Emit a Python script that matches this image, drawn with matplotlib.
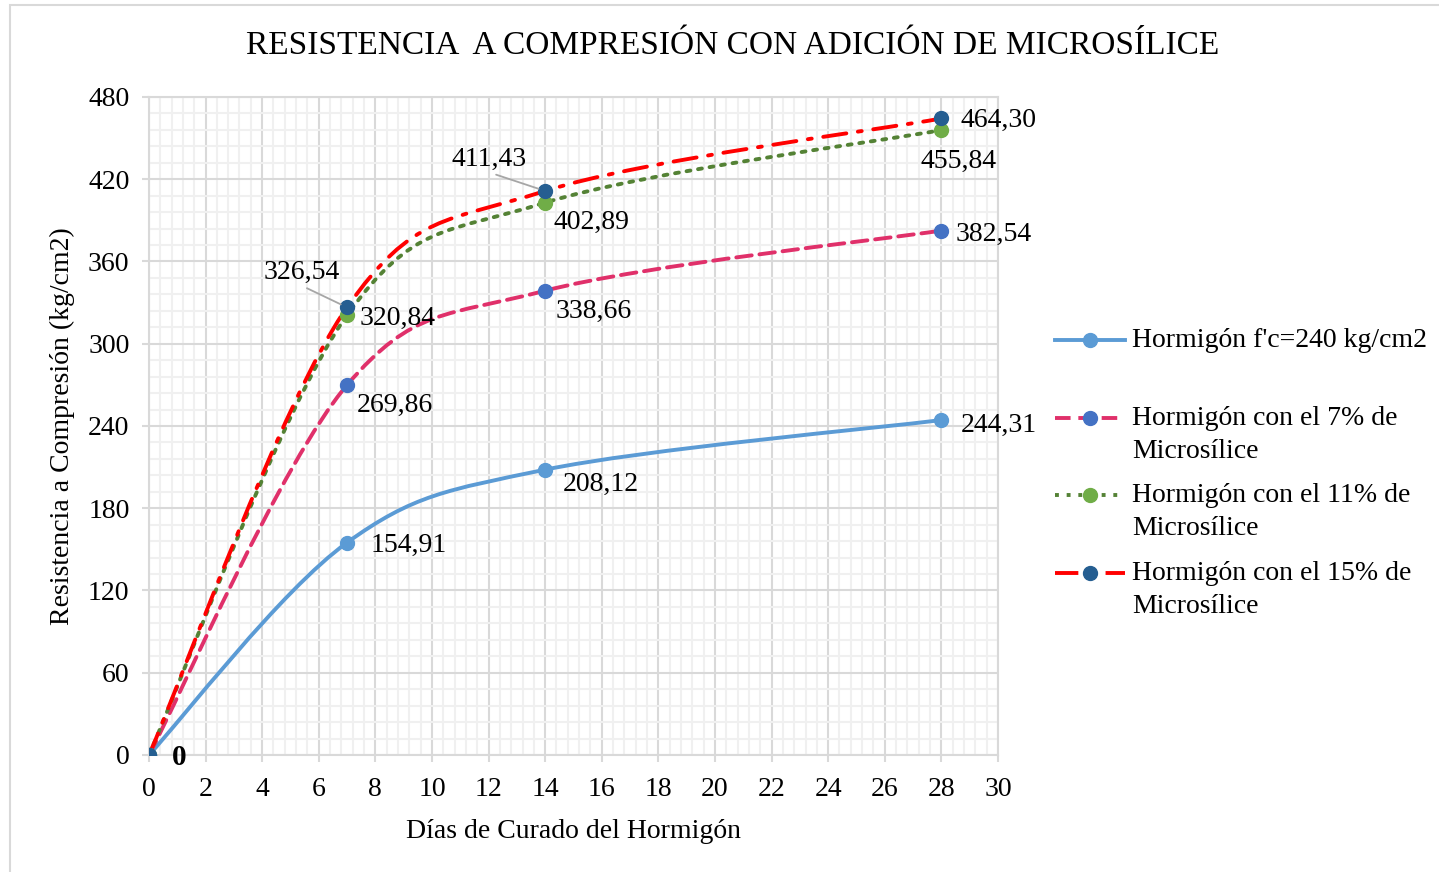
import numpy as np
import matplotlib.pyplot as plt
from matplotlib.path import Path
from matplotlib.patches import PathPatch, Rectangle
from matplotlib.lines import Line2D
from matplotlib.ticker import MultipleLocator

plt.rcParams['font.family'] = ['Liberation Serif', 'DejaVu Serif']

# data
dias = [0, 7, 14, 28]
base_240 = [0, 154.91, 208.12, 244.31]
ms_7 = [0, 269.86, 338.66, 382.54]
ms_11 = [0, 320.84, 402.89, 455.84]
ms_15 = [0, 326.54, 411.43, 464.30]

labels = ["Hormigón f'c=240 kg/cm2",
          "Hormigón con el 7% de\nMicrosílice",
          "Hormigón con el 11% de\nMicrosílice",
          "Hormigón con el 15% de\nMicrosílice"]


def fmt(v):
    return "0" if v == 0 else f"{v:.2f}".replace(".", ",")


def smooth_path(x, y):
    # excel-like smoothed line: catmull-rom converted to cubic bezier segments
    pts = np.column_stack([x, y]).astype(float)
    n = len(pts)
    verts = [pts[0]]
    codes = [Path.MOVETO]
    for i in range(n - 1):
        p0 = pts[max(i - 1, 0)]
        p1 = pts[i]
        p2 = pts[i + 1]
        p3 = pts[min(i + 2, n - 1)]
        c1 = p1 + (p2 - p0) / 6.0
        c2 = p2 - (p3 - p1) / 6.0
        verts += [c1, c2, p2]
        codes += [Path.CURVE4] * 3
    return Path(verts, codes)


fig = plt.figure(figsize=(14.39, 8.72), dpi=100)
ax = fig.add_axes([0.1035, 0.1342, 0.59, 0.7546])

series = [
    (base_240, '#5B9BD5', '#5B9BD5', '-'),
    (ms_7, '#E0306A', '#4472C4', (0, (4, 2))),
    (ms_11, '#548235', '#70AD47', (0, (1, 2))),
    (ms_15, '#FF0000', '#255E91', (0, (6, 3, 1, 3))),
]

for vals, lc, mc, ls in series:
    patch = PathPatch(smooth_path(dias, vals), facecolor='none', edgecolor=lc,
                      lw=2.8, linestyle=ls, capstyle='round', zorder=3)
    ax.add_patch(patch)
    ax.plot(dias, vals, linestyle='none', marker='o', ms=10, color=mc,
            zorder=4)

fs = 20
# data labels (offsets in pixels, y up)
ax.annotate("0", (0, 0), xytext=(30, -3), textcoords='offset pixels',
            fontsize=fs + 1, fontweight='bold', ha='center', va='center')

offs = {
    0: [(24, -3), (18, -15), (19, -5)],
    1: [(10, -20), (10, -21), (14, -4)],
    2: [(13, -3), (8, -20), (-21, -31)],
}
for k, vals in enumerate([base_240, ms_7, ms_11]):
    for i, (dx, dy) in enumerate(offs[k]):
        d = dias[i + 1]
        v = vals[i + 1]
        ax.annotate(fmt(v), (d, v), xytext=(dx, dy), textcoords='offset pixels',
                    fontsize=fs, ha='left', va='center', zorder=5)

# 15% labels, two with leader lines
lead = dict(arrowstyle='-', color='#A6A6A6', lw=1.3, shrinkA=1, shrinkB=5,
            relpos=(0.47, 0.0))
ax.annotate(fmt(ms_15[1]), (7, ms_15[1]), xytext=(-83, 35), textcoords='offset pixels',
            fontsize=fs, ha='left', va='center', zorder=5, arrowprops=lead)
ax.annotate(fmt(ms_15[2]), (14, ms_15[2]), xytext=(-94, 32), textcoords='offset pixels',
            fontsize=fs, ha='left', va='center', zorder=5, arrowprops=lead)
ax.annotate(fmt(ms_15[3]), (28, ms_15[3]), xytext=(19, -2), textcoords='offset pixels',
            fontsize=fs, ha='left', va='center', zorder=5)

ax.set_xlim(0, 30)
ax.set_ylim(0, 480)
ax.xaxis.set_major_locator(MultipleLocator(2))
ax.xaxis.set_minor_locator(MultipleLocator(0.4))
ax.yaxis.set_major_locator(MultipleLocator(60))
ax.yaxis.set_minor_locator(MultipleLocator(12))
ax.grid(which='major', color='#D9D9D9', lw=1.5, zorder=1)
ax.grid(which='minor', color='#F0F0F0', lw=1.5, zorder=0)
ax.set_axisbelow(True)
for s in ax.spines.values():
    s.set_color('#D9D9D9')
    s.set_linewidth(1.5)
ax.tick_params(which='major', length=5, width=1.5, color='#D9D9D9', labelsize=fs)
ax.tick_params(axis='x', pad=11)
ax.tick_params(axis='y', pad=9)
ax.tick_params(which='minor', length=0)

ax.set_xlabel("Días de Curado del Hormigón", fontsize=fs, labelpad=12)
ax.set_ylabel("Resistencia a Compresión (kg/cm2)", fontsize=fs, labelpad=9)
fig.text(0.509, 1 - 46 / 872, "RESISTENCIA  A COMPRESIÓN CON ADICIÓN DE MICROSÍLICE",
         fontsize=24, ha='center', va='center')

# legend, placed by hand like the excel one
leg_y = [340, 418, 495, 573]
for (vals, lc, mc, ls), lab, yy in zip(series, labels, leg_y):
    yf = 1 - yy / 872
    fig.add_artist(Line2D([1055 / 1439, 1125 / 1439], [yf, yf], color=lc, lw=2.8,
                          linestyle=ls, transform=fig.transFigure))
    fig.add_artist(Line2D([1090 / 1439], [yf], marker='o', ms=10, color=mc,
                          linestyle='none', transform=fig.transFigure))
    fig.text(1132 / 1439, yf + 12 / 872, lab, fontsize=fs, ha='left', va='top',
             linespacing=1.44)

# chart area border
fig.add_artist(Rectangle((10 / 1439, -0.1), 1.2, 0.1 + 1 - 5 / 872, fill=False,
                         edgecolor='#D9D9D9', lw=1.5, transform=fig.transFigure))

fig.savefig("out.png", dpi=100)
